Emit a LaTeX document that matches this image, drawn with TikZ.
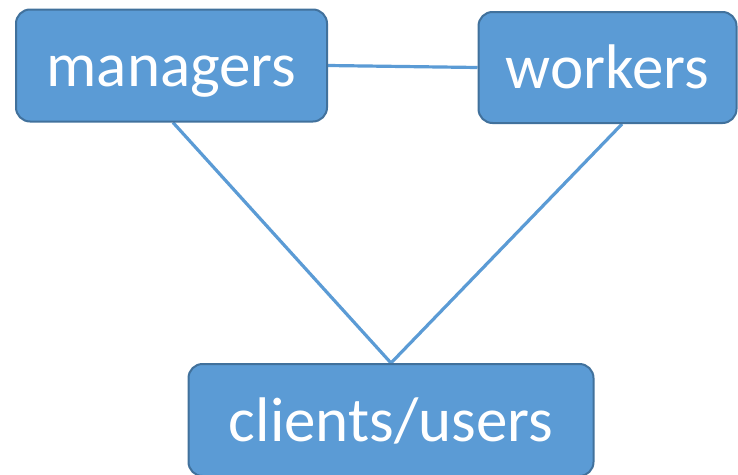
\documentclass[tikz,border=0pt]{standalone}
\usepackage{fontspec}
\setmainfont{Carlito}
\usetikzlibrary{backgrounds}
\definecolor{boxfill}{HTML}{5B9BD5}
\definecolor{boxedge}{HTML}{41719C}
\begin{document}
\begin{tikzpicture}[x=1pt,y=-1pt,
  box/.style={draw=boxedge,fill=boxfill,line width=2pt,rounded corners=14pt,
    text=white,font=\fontsize{63}{63}\selectfont,inner sep=0pt,
    text height=42pt,text depth=0pt},
  link/.style={draw=boxfill,line width=3.2pt}]
\useasboundingbox (0,0) rectangle (738,474);
\node[box,minimum width=311pt,minimum height=112pt] (m) at (171.5,65.5) {managers};
\node[box,minimum width=258pt,minimum height=111pt] (w) at (607.5,67.5) {workers};
\node[box,minimum width=405pt,minimum height=112pt] (c) at (391,420) {clients/users};
\begin{scope}[on background layer]
\draw[link] (m.east) -- (w.west);
\draw[link] (m.south) ++(1.5,0) -- (c.north) -- ([xshift=14.5pt]w.south);
\end{scope}
\end{tikzpicture}
\end{document}
